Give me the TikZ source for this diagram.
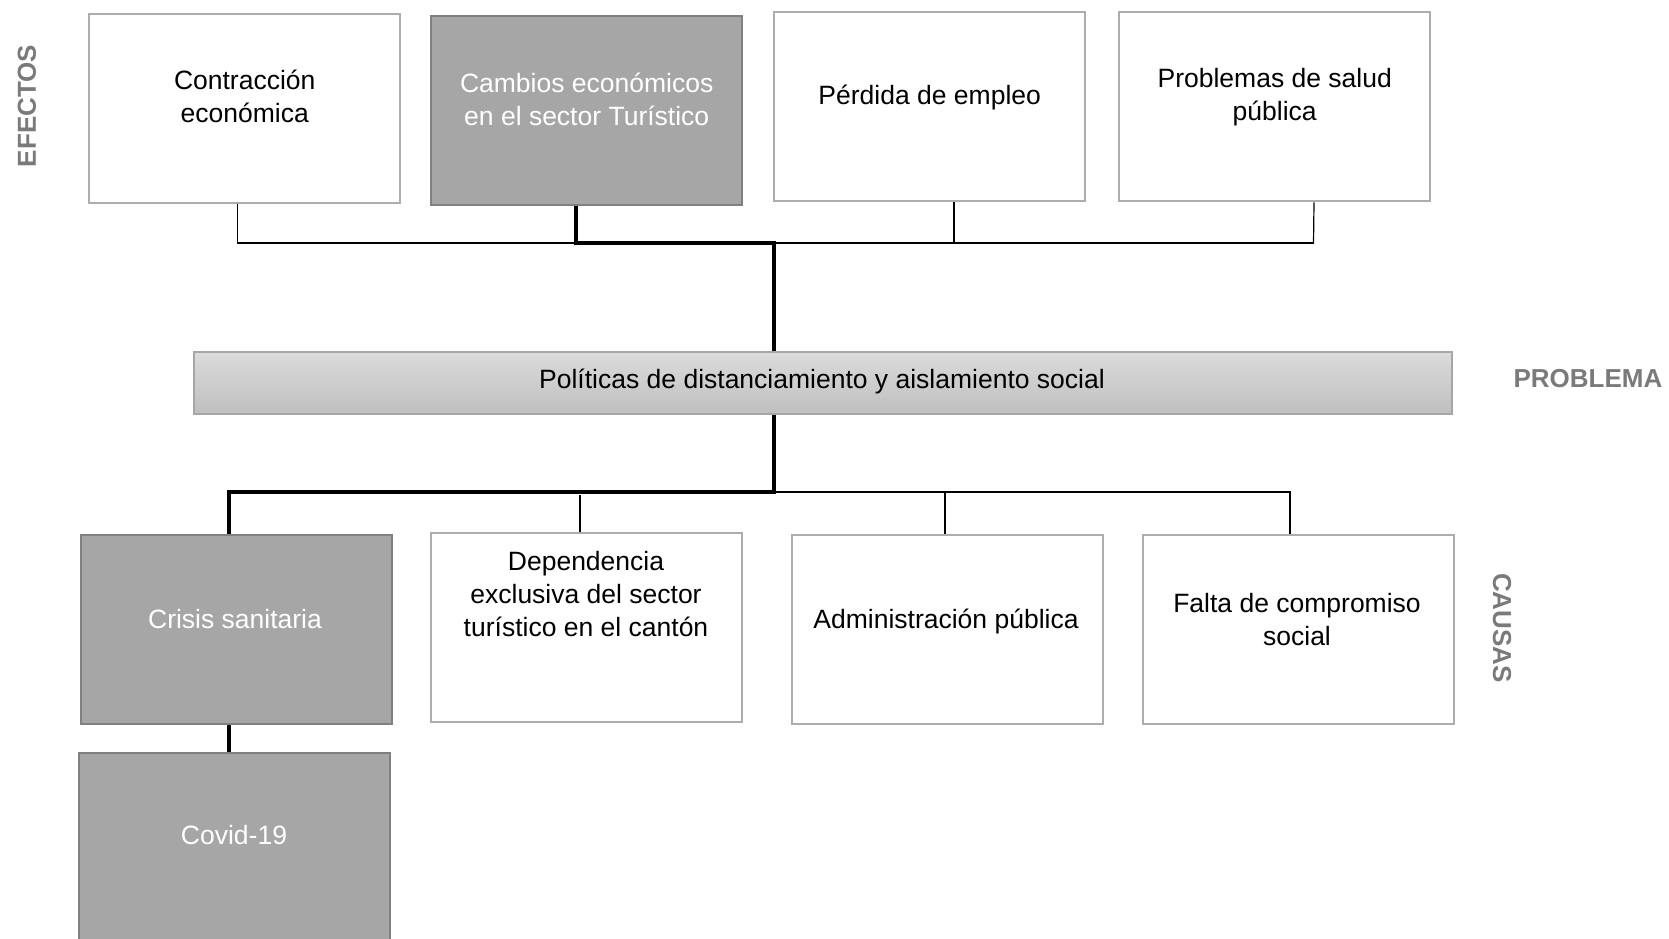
\documentclass[tikz,border=0pt]{standalone}
\usepackage{fontspec}
\setmainfont{Liberation Sans}
\begin{document}
\begin{tikzpicture}[x=1pt,y=-1pt,
  wbox/.style={draw=black!32,line width=2.4pt,fill=white,minimum width=311pt,minimum height=189pt,anchor=north west,inner sep=0pt},
  gbox/.style={draw=black!50,line width=2.4pt,fill=black!35,minimum width=311pt,minimum height=189pt,anchor=north west,inner sep=0pt},
  txt/.style={align=center,font=\fontsize{26.5}{33}\selectfont,inner sep=0pt},
  wtxt/.style={txt,text=white},
  side/.style={font=\fontsize{26}{30}\selectfont\bfseries,text=black!52,inner sep=0pt},
  thin/.style={line width=1.2pt},
  thick/.style={line width=3.6pt}]
\useasboundingbox (0,0) rectangle (1669,938);
% Effects
\node[wbox] (e1) at (88,13) {};
\node[gbox] (e2) at (430,15) {};
\node[wbox] (e3) at (773,11) {};
\node[wbox] (e4) at (1118,11) {};
\node[txt] (e1t) at ([yshift=12pt]e1.center) {Contracción\\económica};
\node[wtxt] (e2t) at ([yshift=11.5pt]e2.center) {Cambios económicos\\en el sector Turístico};
\node[txt] (e3t) at ([yshift=9.7pt]e3.center) {Pérdida de empleo};
\node[txt] (e4t) at ([yshift=10pt]e4.center) {Problemas de salud\\pública};
% Problem
\node[draw=black!35,line width=1.5pt,top color=black!14,bottom color=black!25,minimum width=1258pt,minimum height=62pt,anchor=north west,inner sep=0pt] (p) at (193,351) {};
\node[txt] (pt) at (822,381) {Políticas de distanciamiento y aislamiento social};
% Causes
\node[gbox] (c1) at (80,534) {};
\node[wbox] (c2) at (430,532) {};
\node[wbox] (c3) at (791,534) {};
\node[wbox] (c4) at (1142,534) {};
\node[gbox,minimum height=200pt] (c5) at (78,751.5) {};
\node[wtxt] (c1t) at (235,619) {Crisis sanitaria};
\node[txt] (c2t) at (586,594) {Dependencia\\exclusiva del sector\\turístico en el cantón};
\node[txt] (c3t) at (946,621) {Administración pública};
\node[txt] (c4t) at (1297,620) {Falta de compromiso\\social};
\node[wtxt] (c5t) at (234,835.5) {Covid-19};
% Side labels
\node[side,rotate=90] (lef) at (27,106) {EFECTOS};
\node[side] (lpr) at (1588,379) {PROBLEMA};
\node[side,rotate=-90] (lca) at (1502,628) {CAUSAS};
% Top connectors
\coordinate (ja) at (774,243);
\coordinate (jb) at (774,492);
\draw[thin] (e1.south west) ++(149.5,0) coordinate (a1) -- (a1 |- ja) -- (1313.5,243) coordinate (a4);
\draw[thin] (e3.south west) ++(181,0) coordinate (a3) -- (a3 |- ja);
\draw[thin] (e4.south west) ++(196,0) -- (a4);
\draw[thick] (e2.south west) ++(146,0) coordinate (a2) -- (a2 |- ja) -- (ja) -- (ja |- p.north);
% Bottom connectors
\path (c1.north west) ++(149,0) coordinate (b1);
\draw[thick] (p.south -| jb) -- (jb) -- (jb -| b1) -- (b1);
\draw[thin] (jb) -- (1290,492) coordinate (b4) -- (b4 |- c4.north);
\draw[thin] (580,495) coordinate (b2) -- (b2 |- c2.north);
\draw[thin] (945,492) coordinate (b3) -- (b3 |- c3.north);
\draw[thick] (b1 |- c1.south) -- (b1 |- c5.north);
\end{tikzpicture}
\end{document}
